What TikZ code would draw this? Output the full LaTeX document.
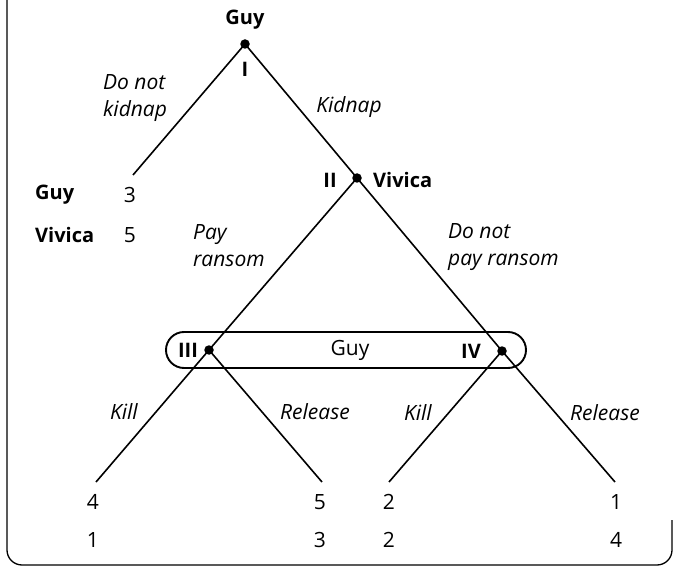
\documentclass[tikz,border=0pt]{standalone}
\usepackage{fontspec}
\setmainfont{Open Sans}
\begin{document}
\begin{tikzpicture}[x=1pt,y=-1pt,
  every node/.style={font=\fontsize{21}{25}\selectfont, inner sep=0pt},
  branch/.style={line width=1.6pt},
  frame/.style={line width=1.3pt, rounded corners=15pt},
  dot/.style={circle, fill=black, minimum size=9.5pt, inner sep=0pt},
  act/.style={font=\fontsize{21}{27}\selectfont\itshape, align=left},
  who/.style={font=\fontsize{20}{25}\selectfont\bfseries},
  infoset/.style={draw, line width=1.9pt, rounded corners=18pt,
    minimum width=360pt, minimum height=36pt}]
\useasboundingbox (0,0) rectangle (673,567);

% outer frame
\draw[frame] (7,0) -- (7,565) -- (672,565) -- (672,520);

% information set of Guy
\node[infoset] (info) at (346,350) {};
\node (infolabel) at (350,350) {Guy};

% decision nodes
\node[dot] (n1) at (245,44) {};
\node[dot] (n2) at (357,178) {};
\node[dot] (n3) at (209,350) {};
\node[dot] (n4) at (502,351) {};

% terminal points
\coordinate (t0) at (133,175);
\coordinate (t1) at (96,482);
\coordinate (t2) at (322,482);
\coordinate (t3) at (389,482);
\coordinate (t4) at (615,482);

% branches
\draw[branch] (n1.center) -- (t0);
\draw[branch] (n1.center) -- (n2.center);
\draw[branch] (n2.center) -- (n3.center);
\draw[branch] (n2.center) -- (n4.center);
\draw[branch] (n3.center) -- (t1);
\draw[branch] (n3.center) -- (t2);
\draw[branch] (n4.center) -- (t3);
\draw[branch] (n4.center) -- (t4);

% players and node numbers
\node[who] (p1) at (245,20) {Guy};
\node[who] (r1) at (245,69) {I};
\node[who] (r2) at (330,180) {II};
\node[who, anchor=west] (p2) at (373,180) {Vivica};
\node[who] (r3) at (188,350) {III};
\node[who] (r4) at (471,351) {IV};

% actions
\node[act, anchor=west] (a0) at (103,98) {Do not\\kidnap};
\node[act] (a1) at (349,107) {Kidnap};
\node[act, anchor=west] (a2) at (193,246) {Pay\\ransom};
\node[act, anchor=west] (a3) at (448,247) {Do not\\pay ransom};
\node[act, anchor=east] (a4) at (138,412) {Kill};
\node[act, anchor=west] (a5) at (280,412) {Release};
\node[act, anchor=east] (a6) at (432,413) {Kill};
\node[act, anchor=west] (a7) at (570,413) {Release};

% payoffs after not kidnapping
\node[who, anchor=west] (g0) at (35,195) {Guy};
\node (g0v) at (130,195) {3};
\node[who, anchor=west] (v0) at (35,235) {Vivica};
\node (v0v) at (130,235) {5};

% payoffs at the leaves
\node (g1) at (93,502) {4};
\node (v1) at (93,540) {1};
\node (g2) at (320,502) {5};
\node (v2) at (320,540) {3};
\node (g3) at (389,502) {2};
\node (v3) at (389,540) {2};
\node (g4) at (616,502) {1};
\node (v4) at (616,540) {4};
\end{tikzpicture}
\end{document}
